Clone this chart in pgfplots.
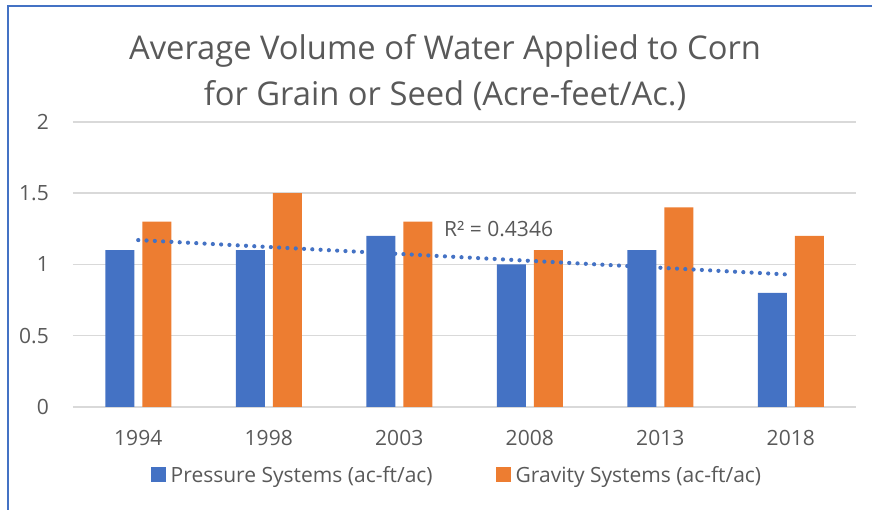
\documentclass[border=0pt]{standalone}
\usepackage{pgfplots}
\pgfplotsset{compat=1.18}
\usepackage{fontspec}
\setmainfont{Open Sans}
\definecolor{cblue}{HTML}{4472C4}
\definecolor{corange}{HTML}{ED7D31}
\definecolor{ctext}{HTML}{595959}
\definecolor{cgrid}{HTML}{D9D9D9}
\begin{document}
\begin{tikzpicture}
\path[use as bounding box] (0pt,0pt) rectangle (872pt,510pt);
\draw[cblue, line width=1.5pt] (8pt,0pt) -- (8pt,504pt) -- (872pt,504pt);
\begin{axis}[
  at={(73pt,103pt)}, anchor=south west,
  scale only axis, width=783pt, height=285pt,
  xmin=0.5, xmax=6.5, ymin=0, ymax=2,
  xtick={1,2,3,4,5,6},
  xticklabels={1994,1998,2003,2008,2013,2018},
  ytick={0,0.5,1,1.5,2},
  yticklabels={0,0.5,1,1.5,2},
  major tick length=0pt,
  axis line style={draw=none},
  ymajorgrids, grid style={cgrid, line width=1.5pt},
  tick label style={font=\fontsize{21}{25}\selectfont, text=ctext, inner sep=0pt},
  yticklabel style={anchor=east, xshift=-24pt},
  xticklabel style={anchor=north, yshift=-23pt},
  legend style={at={(0.4923,-0.2386)}, anchor=center, draw=none, fill=none,
    legend columns=2, font=\fontsize{21}{25}\selectfont, text=ctext,
    /tikz/every even column/.append style={column sep=58pt},
    nodes={inner sep=5pt}},
  legend image code/.code={\fill[#1] (0pt,-7.5pt) rectangle (15pt,7.5pt);},
  clip=false,
]
\addplot[ybar, bar width=29pt, bar shift=-18.5pt, fill=cblue, draw=none]
  coordinates {(1,1.1) (2,1.1) (3,1.2) (4,1.0) (5,1.1) (6,0.8)};
\addlegendentry{Pressure Systems (ac-ft/ac)}
\addplot[ybar, bar width=29pt, bar shift=18.5pt, fill=corange, draw=none]
  coordinates {(1,1.3) (2,1.5) (3,1.3) (4,1.1) (5,1.4) (6,1.2)};
\addlegendentry{Gravity Systems (ac-ft/ac)}
\addplot[cblue, line width=4.2pt, line cap=round, dash pattern=on 0pt off 8.3pt, forget plot]
  coordinates {(1,1.1714) (6,0.9286)};
\end{axis}
\node[anchor=base west, inner sep=0pt, text=ctext, font=\fontsize{21}{25}\selectfont] at (444pt,273pt) {R² = 0.4346};
\node[anchor=base, inner sep=0pt, text=ctext, font=\fontsize{32.7}{38}\selectfont] at (445pt,450pt) {Average Volume of Water Applied to Corn};
\node[anchor=base, inner sep=0pt, text=ctext, font=\fontsize{32.7}{38}\selectfont] at (445pt,404pt) {for Grain or Seed (Acre-feet/Ac.)};
\end{tikzpicture}
\end{document}
